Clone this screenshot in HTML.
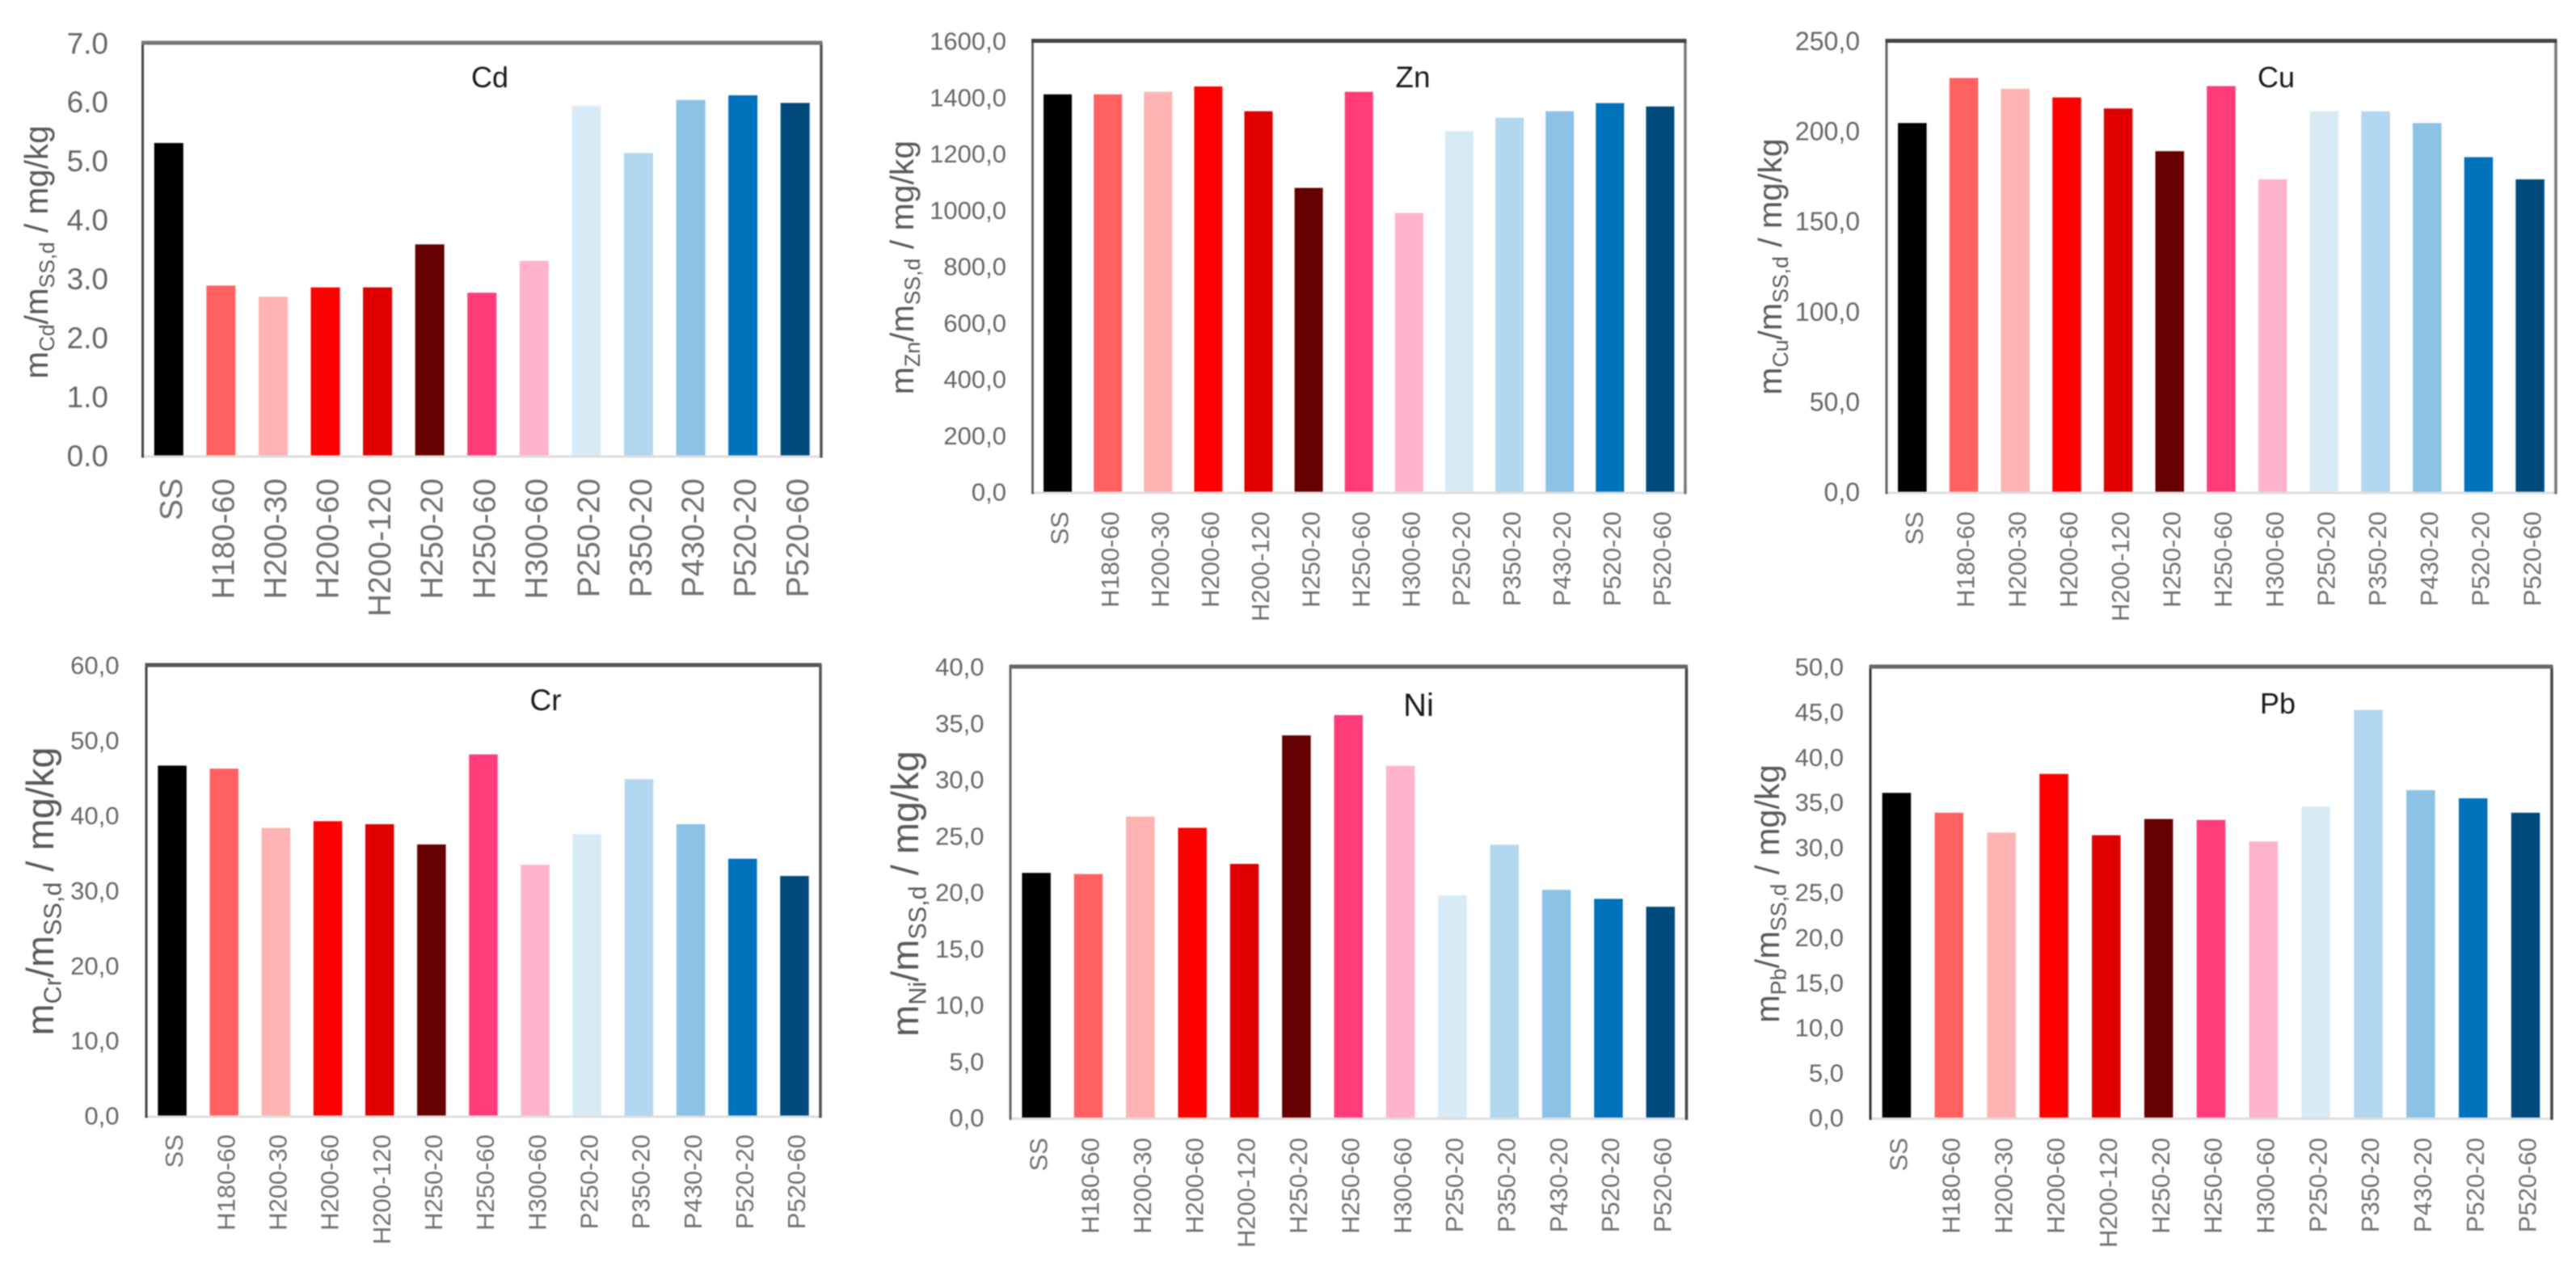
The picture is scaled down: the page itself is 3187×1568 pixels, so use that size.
<!DOCTYPE html>
<html lang="en">
<head>
<meta charset="utf-8">
<title>Metal content per treatment</title>
<style>
  html, body { margin: 0; padding: 0; background: #fff; }
  #figure { display: block; width: 3187px; height: 1568px; filter: blur(0.8px); }
  text { font-family: "Liberation Sans", sans-serif; }
</style>
</head>
<body>
<svg id="figure" xmlns="http://www.w3.org/2000/svg" width="3187" height="1568" viewBox="0 0 3187 1568"></svg>
<script>
const categories = ["SS","H180-60","H200-30","H200-60","H200-120","H250-20","H250-60","H300-60","P250-20","P350-20","P430-20","P520-20","P520-60"];

const valuesCd = [5.30,2.88,2.69,2.85,2.85,3.58,2.76,3.30,5.93,5.13,6.03,6.11,5.98];
const valuesZn = [1410,1410,1419,1438,1350,1078,1419,989,1279,1327,1350,1379,1367];
const valuesCu = [204.4,229.4,223.4,218.6,212.5,188.8,224.9,173.2,210.9,210.9,204.4,185.5,173.2];
const valuesCr = [46.6,46.2,38.3,39.2,38.8,36.1,48.1,33.4,37.5,44.8,38.8,34.2,31.9];
const valuesNi = [21.7,21.6,26.7,25.7,22.5,33.9,35.7,31.2,19.7,24.2,20.2,19.4,18.7];
const valuesPb = [36.0,33.8,31.6,38.1,31.3,33.1,33.0,30.6,34.5,45.2,36.3,35.4,33.8];

const ticksCd = ["0.0","1.0","2.0","3.0","4.0","5.0","6.0","7.0"];
const ticksZn = ["0,0","200,0","400,0","600,0","800,0","1000,0","1200,0","1400,0","1600,0"];
const ticksCu = ["0,0","50,0","100,0","150,0","200,0","250,0"];
const ticksCr = ["0,0","10,0","20,0","30,0","40,0","50,0","60,0"];
const ticksNi = ["0,0","5,0","10,0","15,0","20,0","25,0","30,0","35,0","40,0"];
const ticksPb = ["0,0","5,0","10,0","15,0","20,0","25,0","30,0","35,0","40,0","45,0","50,0"];

const barColors = ["#000000","#ff6161","#ffb3b3","#ff0000","#e00000","#660000","#ff3b7a","#ffb3cc","#d9eaf7","#b3d7f0","#8cc2e6","#0072bc","#004b7c"];

const panels = [
  {key:"cd", metal:"Cd", values:valuesCd, ticks:ticksCd, L:176.5, R:1016, T:53, B:563.5, tickEnd:134, tickFs:37, catFs:39, catTop:592, barW:36,
   titleX:606, titleY:108, titleFs:36, axX:59, axY:312, axFs:40.5, sideL:"#444", sideR:"#555", topC:"#777"},
  {key:"zn", metal:"Zn", values:valuesZn, ticks:ticksZn, L:1277.5, R:2085, T:50.5, B:608.5, tickEnd:1245, tickFs:31, catFs:31, catTop:633, barW:35,
   titleX:1748, titleY:108, titleFs:37, axX:1130, axY:331, axFs:41, sideL:"#666", sideR:"#777", topC:"#444"},
  {key:"cu", metal:"Cu", values:valuesCu, ticks:ticksCu, L:2334, R:3162, T:50.5, B:608.5, tickEnd:2301, tickFs:32, catFs:31, catTop:633, barW:35.5,
   titleX:2816, titleY:108, titleFs:36, axX:2204, axY:330, axFs:41, sideL:"#666", sideR:"#777", topC:"#444"},
  {key:"cr", metal:"Cr", values:valuesCr, ticks:ticksCr, L:181, R:1015, T:823, B:1380.5, tickEnd:147.5, tickFs:31, catFs:31, catTop:1404, barW:35.5,
   titleX:675, titleY:879, titleFs:37, axX:66, axY:1103, axFs:47, sideL:"#444", sideR:"#555", topC:"#555"},
  {key:"ni", metal:"Ni", values:valuesNi, ticks:ticksNi, L:1250, R:2086.5, T:825, B:1383, tickEnd:1217.5, tickFs:31, catFs:31, catTop:1408, barW:35.5,
   titleX:1755, titleY:886, titleFs:40, axX:1136, axY:1106, axFs:47, sideL:"#666", sideR:"#444", topC:"#666"},
  {key:"pb", metal:"Pb", values:valuesPb, ticks:ticksPb, L:2314, R:3157, T:825, B:1383, tickEnd:2281, tickFs:31, catFs:31, catTop:1408, barW:35.5,
   titleX:2818, titleY:883, titleFs:36, axX:2201, axY:1106, axFs:41.5, sideL:"#333", sideR:"#444", topC:"#666"}
];

const NS = "http://www.w3.org/2000/svg";
const svg = document.getElementById("figure");

function mk(tag, parent, attrs) {
  const el = document.createElementNS(NS, tag);
  for (const k in attrs) el.setAttribute(k, attrs[k]);
  parent.appendChild(el);
  return el;
}
function tickValue(label) { return parseFloat(label.replace(",", ".")); }
function yScaleFor(p) {
  const max = tickValue(p.ticks[p.ticks.length - 1]);
  return v => p.B - (v / max) * (p.B - p.T);
}
function xBandFor(p) {
  const step = (p.R - p.L) / categories.length;
  return i => p.L + (i + 0.5) * step;
}

panels.forEach(p => {
  const y = yScaleFor(p);
  const x = xBandFor(p);

  const g = mk("g", svg, {});
  
  

  // bars
  p.values.forEach((v, i) => {
    const bar = mk("rect", g, {x: x(i) - p.barW / 2, y: y(v), width: p.barW, height: p.B - y(v), fill: barColors[i]});
    
    
  });

  // frame
  const bottom = mk("line", g, {x1: p.L, x2: p.R, y1: p.B + 1.5, y2: p.B + 1.5, stroke: "#dedede", "stroke-width": 3});
  
  
  const left = mk("line", g, {x1: p.L, x2: p.L, y1: p.T, y2: p.B + 3, stroke: p.sideL, "stroke-width": 3});
  
  
  const right = mk("line", g, {x1: p.R, x2: p.R, y1: p.T, y2: p.B + 3, stroke: p.sideR, "stroke-width": 3.5});
  
  
  const top = mk("line", g, {x1: p.L - 1.5, x2: p.R + 1.5, y1: p.T, y2: p.T, stroke: p.topC, "stroke-width": 5});
  
  

  // y tick labels
  p.ticks.forEach(label => {
    const t = mk("text", g, {x: p.tickEnd, y: y(tickValue(label)) + p.tickFs * 0.36, "text-anchor": "end", "font-size": p.tickFs, fill: "#666666"});
    t.textContent = label;
    
    
  });

  // category labels
  categories.forEach((c, i) => {
    const bx = x(i) + p.catFs * 0.36 + 2;
    const t = mk("text", g, {x: bx, y: p.catTop, "text-anchor": "end", "font-size": p.catFs, fill: "#707070",
      transform: "rotate(-90 " + bx + " " + p.catTop + ")"});
    t.textContent = c;
    
    
  });

  // panel title
  const title = mk("text", g, {x: p.titleX, y: p.titleY, "text-anchor": "middle", "font-size": p.titleFs, fill: "#1a1a1a"});
  title.textContent = p.metal;
  
  

  // y-axis title with subscripts
  const yt = mk("text", g, {x: p.axX, y: p.axY, "text-anchor": "middle", "font-size": p.axFs, fill: "#595959",
    transform: "rotate(-90 " + p.axX + " " + p.axY + ")"});
  
  
  const drop = p.axFs * 0.2;
  const subFs = p.axFs * 0.65;
  mk("tspan", yt, {}).textContent = "m";
  mk("tspan", yt, {"font-size": subFs, dy: drop}).textContent = p.metal;
  mk("tspan", yt, {dy: -drop}).textContent = "/m";
  mk("tspan", yt, {"font-size": subFs, dy: drop}).textContent = "SS,d";
  mk("tspan", yt, {dy: -drop}).textContent = " / mg/kg";
});
</script>
</body>
</html>
